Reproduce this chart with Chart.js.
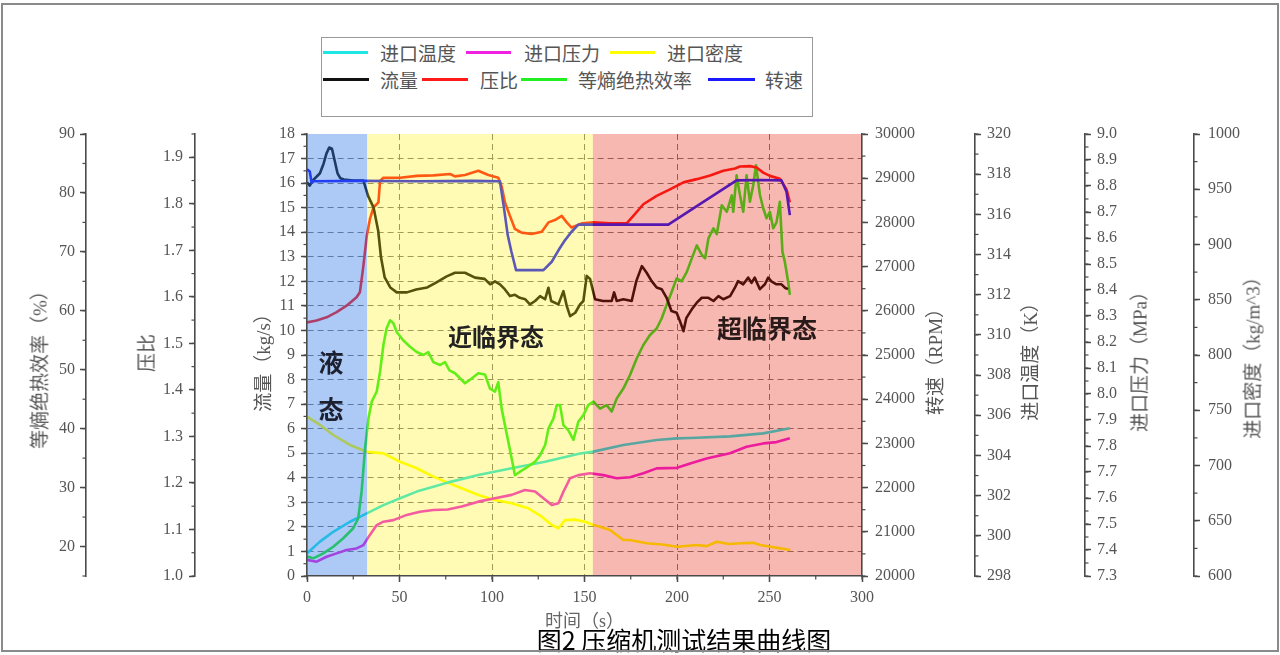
<!DOCTYPE html>
<html>
<head>
<meta charset="utf-8">
<script src="https://cdn.jsdelivr.net/npm/chart.js@4.4.1/dist/chart.umd.min.js"></script>
<style>
html,body{margin:0;padding:0;background:#fff;}
#wrap{position:relative;width:1280px;height:655px;overflow:hidden;background:#fff;}
#c{position:absolute;left:0;top:0;}
.ytitle{position:absolute;font-size:19px;line-height:1;color:#555;white-space:nowrap;
  font-family:"Liberation Serif","Noto Sans CJK SC",serif;transform:translate(-50%,-50%) rotate(-90deg);}
.lgbox{position:absolute;left:321px;top:37px;width:490px;height:78px;border:1.5px solid #999;background:#fff;}
.lgl{position:absolute;height:3px;}
.lgt{position:absolute;font-family:"Noto Sans CJK SC",sans-serif;font-size:19px;line-height:19px;color:#555;white-space:nowrap;}
.ann{position:absolute;font-family:"Noto Sans CJK SC",sans-serif;font-weight:bold;color:#222;line-height:1;
  white-space:nowrap;transform:translate(-50%,-50%);}
.cap{position:absolute;left:684px;top:627px;transform:translateX(-50%);font-family:"Noto Sans CJK SC",sans-serif;
  font-size:25px;line-height:25px;color:#000;white-space:nowrap;}
.frame{position:absolute;left:1px;top:3px;width:1274px;height:645px;border:2px solid #8a8a8a;pointer-events:none;}
</style>
</head>
<body>
<div id="wrap">
  <canvas id="c" width="1280" height="655"></canvas>

  <div class="ytitle" style="left:40px;top:365px;">等熵绝热效率（%）</div>
  <div class="ytitle" style="left:147px;top:353px;">压比</div>
  <div class="ytitle" style="left:263px;top:358px;">流量（kg/s）</div>
  <div class="ytitle" style="left:935px;top:357px;">转速（RPM）</div>
  <div class="ytitle" style="left:1030px;top:357px;">进口温度（K）</div>
  <div class="ytitle" style="left:1140px;top:357px;">进口压力（MPa）</div>
  <div class="ytitle" style="left:1253px;top:353px;">进口密度（kg/m^3）</div>

  <div class="lgbox"></div>
  <div id="legend"></div>

  <div class="ann" style="left:331px;top:361px;font-size:25px;color:#1c2030;">液</div>
  <div class="ann" style="left:331px;top:408px;font-size:25px;color:#1c2030;">态</div>
  <div class="ann" style="left:496px;top:336px;font-size:24px;">近临界态</div>
  <div class="ann" style="left:767px;top:327px;font-size:25px;color:#2a1a1a;">超临界态</div>

  <div class="cap">图2 压缩机测试结果曲线图</div>
  <div class="frame"></div>
</div>

<script>
// ---------------- data ----------------
const flowT = [0,1.5,3,5,7,9,10.5,12,13.5,15,16.5,18,20,25,30.5,33,36,38.5,40,42,45,48.5,54,59,65,70,75.5,80,85.4,90.8,96,99,101.6,104.3,107,109.7,112.4,115,118,120.5,123.3,126,128.7,130.5,132,135.9,138.6,140.4,142.2,145,147.6,149.4,151.2,153,155.7,160,164.7,166,167.4,171,175.5,178,181,183.6,186.3,189,191.7,194.4,197,199.8,201.6,203.5,205,208,210.7,213.4,217,219.7,222.4,225,228.7,231.3,233,235.8,238.5,240.3,242,244.8,247.5,249.3,251,253.8,256.5,258.3,260];
const flowV = [16.03,15.9,16.1,16.25,16.4,16.8,17.2,17.45,17.4,16.9,16.4,16.2,16.15,16.1,16.1,15.48,15.0,14.05,12.98,12.16,11.75,11.55,11.55,11.67,11.75,11.96,12.2,12.35,12.35,12.15,12.1,11.88,12.0,11.88,11.67,11.4,11.45,11.33,11.27,11.06,11.2,11.4,11.27,11.74,11.2,11.06,11.6,11.0,10.58,10.72,11.06,11.2,12.22,12.1,11.27,11.2,11.2,11.55,11.2,11.27,11.2,12.01,12.62,12.35,12.01,11.75,11.68,11.33,10.79,10.72,10.38,9.97,10.5,10.86,11.13,11.33,11.33,11.2,11.4,11.27,11.4,11.74,12.01,11.88,12.15,11.94,12.15,11.68,11.88,12.15,12.0,11.88,11.88,11.74,11.68];

const rpmT = [0,1.5,2.5,3.5,30,60,90,104.3,106.5,108.5,110.5,113,127.8,132.3,136,139.5,143,146.7,170,195.3,213.4,232.2,245,256.5,259.2,261];
const rpmV = [29200,29150,28900,28930,28940,28930,28940,28930,28317,27713,27336,26920,26920,27110,27374,27600,27788,27950,27950,27950,28440,28950,28960,28950,28693,28166];

const prT = [0,5.2,10.6,16,21.4,26.8,28.6,30.5,32.3,34,35.9,38.6,39.5,41.3,50.3,59.3,68.3,77.3,80,85.4,92.6,98,103.4,105.2,107,109.7,112.4,116,121.4,126.9,130.5,134,137.7,140.4,143,148.5,154.8,163.8,172.8,176.4,181.8,189,196.2,203.5,210.7,217.9,225,231.4,234,239.4,243,246.6,250.2,255.6,259.2,261];
const prV = [1.545,1.549,1.556,1.567,1.581,1.599,1.61,1.667,1.731,1.767,1.792,1.803,1.849,1.856,1.856,1.86,1.861,1.864,1.859,1.862,1.871,1.862,1.856,1.838,1.803,1.774,1.746,1.738,1.735,1.74,1.76,1.765,1.774,1.76,1.749,1.758,1.76,1.758,1.758,1.774,1.799,1.817,1.831,1.846,1.853,1.861,1.871,1.876,1.88,1.881,1.878,1.867,1.86,1.854,1.831,1.803];

const effT = [0,3.4,8.8,14.2,19.6,25,27.7,29.5,31.4,33.2,35,37.7,39.5,41.3,43,44.9,46.7,48.5,52,55.7,59.3,62.9,65.6,68.3,71.9,74.6,77,80,85.4,89,92.6,96.2,98.9,101.6,103.4,105.2,107,108.8,110.6,112.4,115.1,117.8,120.5,123.3,126,128.7,130.5,133.2,135,136.8,138.6,141.3,144,146.7,149.4,152,154.8,158.4,162,164.7,167.4,171,174.6,178.2,181.8,185.4,189,191.7,194.4,197.1,199.8,202.5,205.3,208,210.7,213.4,215.2,217,219.7,221.5,224.2,226.9,229.6,230.4,232.2,234,235.8,237.6,239.4,241.2,242.7,244.8,246.6,248.4,250.2,252,253.8,255.6,257,258.3,260.1,261];
const effV = [18.3,18.0,18.85,19.97,21.4,23.1,24.8,29.3,36.7,41.7,44.6,46.3,49.7,54.2,57.0,58.4,57.9,56.4,55.0,53.9,53.0,52.5,53.0,51.3,50.8,51.3,49.9,49.4,47.7,48.5,49.4,49.2,46.8,46.3,47.9,43.4,40.6,37.8,35.0,32.1,32.7,33.2,33.8,34.4,35.5,37.2,40.0,41.7,44.0,44.0,40.6,39.7,38.1,41.2,42.3,44.0,44.6,43.4,44.0,42.9,45.1,46.8,49.1,51.9,54.2,55.9,57.0,58.7,61.0,63.2,65.5,65.0,66.6,68.9,71.1,69.5,68.9,72.3,74.0,73.0,77.9,76.8,79.6,76.8,83.0,79.7,76.8,83.0,78.5,81.3,84.7,79.7,77.4,75.7,76.8,74.0,75.0,78.5,70.0,68.3,64.9,62.7];

const tempT = [0,7,14.2,23.2,32.3,41.3,50.3,59.3,68.3,76.4,92.6,110.6,128.7,147.6,154.8,171,189,200,207.2,228.6,246.6,261];
const tempV = [299.13,299.71,300.2,300.7,301.12,301.53,301.87,302.2,302.44,302.66,303.03,303.36,303.69,304.1,304.19,304.52,304.77,304.85,304.87,304.95,305.1,305.35];

const presT = [0,5.2,10.6,16,21.4,26.8,30.5,34,37.7,41.3,46.7,53.9,61,68.3,76,83.6,92.6,101.6,110.6,117.8,123.3,127.8,132.3,135.9,138.6,142.2,146.7,153,160.2,167.4,174.6,181.8,189,200,208,216,228.6,237.6,246.6,253.8,261];
const presV = [7.362,7.355,7.374,7.387,7.40,7.406,7.419,7.458,7.496,7.509,7.515,7.535,7.547,7.554,7.556,7.567,7.586,7.599,7.612,7.631,7.625,7.599,7.573,7.58,7.624,7.676,7.688,7.695,7.688,7.676,7.68,7.695,7.714,7.716,7.735,7.752,7.772,7.797,7.81,7.815,7.83];

const densT = [0,7,14.2,23.2,32.3,41.3,50.3,59.3,68.3,76,83.6,92.6,101.6,110.6,119.6,126.9,132.3,135.9,139.5,144.9,150.3,154.8,158.4,163.8,171,174.6,183.6,192,200,210.8,216,221.6,228,234.2,241.4,245,250.5,256,261.3];
const densV = [744.2,736.7,727.6,718.6,712.5,711,703.4,697.5,689.9,684.5,679.4,673.3,668.8,665.8,661.3,653.7,646.2,643.2,650.7,651,649.1,646.2,644.6,641.6,632.6,632.6,629.6,628.5,626.5,628,627,631,629,629.6,630,628,626.5,625,623.5];

// state regions (time, s)
const regionStart = [0, 32.5, 154.5];
const regionEnd   = [32.5, 154.5, 300];

// tick labels
const timeTicks = [0,50,100,150,200,250,300];
const flowTicks = [0,1,2,3,4,5,6,7,8,9,10,11,12,13,14,15,16,17,18];
const rpmTicks  = [20000,21000,22000,23000,24000,25000,26000,27000,28000,29000,30000];
const effTicks  = [20,30,40,50,60,70,80,90];
const prTicks   = [1.0,1.1,1.2,1.3,1.4,1.5,1.6,1.7,1.8,1.9];
const tempTicks = [298,300,302,304,306,308,310,312,314,316,318,320];
const presTicks = [7.3,7.4,7.5,7.6,7.7,7.8,7.9,8.0,8.1,8.2,8.3,8.4,8.5,8.6,8.7,8.8,8.9,9.0];
const densTicks = [600,650,700,750,800,850,900,950,1000];

// ---------------- styling ----------------
const COL = {
  temp:'#1ee6e6', pres:'#f020e0', dens:'#ffff00',
  flow:'#111111', pr:'#ff1a1a', eff:'#22ee22', rpm:'#1a1aff'
};
const regionColors = ['rgba(50,120,230,0.40)','rgba(255,240,0,0.29)','rgba(230,20,0,0.30)'];
const AX = '#4a4a4a';
const GRID = '#7a7a7a';
const TXT = '#555';

Chart.defaults.font.family = '"Liberation Serif","Noto Sans CJK SC",serif';

function pts(ts, vs){ return ts.map((t,i)=>({x:t, y:vs[i]})); }
const f1 = v => Number(v).toFixed(1);
const f0 = v => String(Math.round(v));

function yScale(o){
  return {
    type:'linear', position:o.pos, weight:o.w, min:o.min, max:o.max,
    afterBuildTicks: sc => { sc.ticks = o.ticks.map(v => ({value:v})); },
    afterFit: sc => { sc.width = o.width; },
    ticks:{autoSkip:false, padding:o.pad, color:TXT, font:{size:16}, callback:o.fmt},
    grid:{drawOnChartArea:false, tickLength:6, tickWidth:1.5, tickColor:AX, color:AX, lineWidth:1},
    border:{display:true, color:AX, width:1.6, z:o.bz || 0},
    title:{display:false}
  };
}

const scales = {
  x: {
    type:'linear', position:'bottom', min:0, max:300,
    afterBuildTicks: sc => { sc.ticks = timeTicks.map(v => ({value:v})); },
    afterFit: sc => { sc.height = 79; },
    ticks:{autoSkip:false, padding:6, color:TXT, font:{size:16}, maxRotation:0, callback:f0},
    grid:{drawOnChartArea:true, lineWidth:1, tickLength:6, tickWidth:1.5, tickColor:AX,
      color: c => (c.tick && (c.tick.value === 0 || c.tick.value === 300)) ? 'rgba(0,0,0,0)' : GRID},
    border:{display:true, color:AX, width:1.6, dash:[6,4], z:1},
    title:{display:true, text:'时间（s）', color:'#666', font:{size:18}, padding:{top:0, bottom:22}}
  },
  yEff:  yScale({pos:'left',  w:2, min:15, max:90, ticks:effTicks, width:78, pad:5, fmt:f0}),
  yPr:   yScale({pos:'left',  w:1, min:1.0, max:1.95, ticks:prTicks, width:109, pad:6, fmt:f1}),
  yFlow: yScale({pos:'left',  w:0, min:0, max:18, ticks:flowTicks, width:112, pad:6, fmt:f0, bz:1}),
  yRpm:  yScale({pos:'right', w:0, min:20000, max:30000, ticks:rpmTicks, width:113, pad:7, fmt:f0, bz:1}),
  yTemp: yScale({pos:'right', w:1, min:298, max:320, ticks:tempTicks, width:110, pad:6, fmt:f0}),
  yPres: yScale({pos:'right', w:2, min:7.3, max:9.0, ticks:presTicks, width:109, pad:6, fmt:f1}),
  yDens: yScale({pos:'right', w:3, min:600, max:1000, ticks:densTicks, width:81, pad:8, fmt:f0})
};
// dashed horizontal grid from flow axis
scales.yFlow.grid = {drawOnChartArea:true, lineWidth:1, tickLength:6, tickWidth:1.5, tickColor:AX,
  color: c => (c.tick && (c.tick.value === 0 || c.tick.value === 18)) ? 'rgba(0,0,0,0)' : GRID};
scales.yFlow.border.dash = [6,4];

const minorSteps = {x:25, yEff:5, yPr:0.05, yFlow:0.5, yRpm:500, yTemp:1, yPres:0.05, yDens:25};

const regionPlugin = {
  id:'regions',
  afterDatasetsDraw(chart){
    const {ctx, chartArea:{top,bottom}, scales:{x}} = chart;
    ctx.save();
    for (let i = 0; i < regionStart.length; i++){
      const x1 = x.getPixelForValue(regionStart[i]);
      const x2 = x.getPixelForValue(regionEnd[i]);
      ctx.fillStyle = regionColors[i];
      ctx.fillRect(x1, top, x2 - x1, bottom - top);
    }
    ctx.restore();
  }
};

const minorPlugin = {
  id:'minorTicks',
  afterDraw(chart){
    const ctx = chart.ctx;
    ctx.save();
    ctx.strokeStyle = AX; ctx.lineWidth = 1.2;
    for (const id in minorSteps){
      const s = chart.scales[id], step = minorSteps[id];
      const n = Math.round((s.max - s.min) / step);
      for (let k = 0; k <= n; k++){
        const p = s.getPixelForValue(s.min + k * step);
        ctx.beginPath();
        if (s.isHorizontal()){ ctx.moveTo(p, s.top); ctx.lineTo(p, s.top + 3.5); }
        else if (s.position === 'left'){ ctx.moveTo(s.right, p); ctx.lineTo(s.right - 3.5, p); }
        else { ctx.moveTo(s.left, p); ctx.lineTo(s.left + 3.5, p); }
        ctx.stroke();
      }
    }
    ctx.restore();
  }
};

function ds(label, ts, vs, color, axis, order){
  return {label, data:pts(ts, vs), borderColor:color, backgroundColor:color, yAxisID:axis, order,
    borderWidth:2.6, pointRadius:0, tension:0, fill:false, borderJoinStyle:'round'};
}

new Chart(document.getElementById('c'), {
  type:'line',
  data:{datasets:[
    ds('进口温度', tempT, tempV, COL.temp, 'yTemp', 5),
    ds('进口压力', presT, presV, COL.pres, 'yPres', 6),
    ds('进口密度', densT, densV, COL.dens, 'yDens', 7),
    ds('流量', flowT, flowV, COL.flow, 'yFlow', 2),
    ds('压比', prT, prV, COL.pr, 'yPr', 3),
    ds('等熵绝热效率', effT, effV, COL.eff, 'yEff', 4),
    ds('转速', rpmT, rpmV, COL.rpm, 'yRpm', 1)
  ]},
  options:{
    responsive:false, animation:false, events:[],
    layout:{padding:{left:8, right:5, top:134, bottom:0}},
    plugins:{legend:{display:false}, tooltip:{enabled:false}, title:{display:false}},
    scales
  },
  plugins:[regionPlugin, minorPlugin]
});

// ---------------- legend (HTML) ----------------
const legendItems = [
  {t:'进口温度', c:COL.temp, l1:323, l2:368, tx:380, y:52},
  {t:'进口压力', c:COL.pres, l1:466, l2:511, tx:524, y:52},
  {t:'进口密度', c:COL.dens, l1:610, l2:655, tx:667, y:52},
  {t:'流量', c:COL.flow, l1:323, l2:369, tx:380, y:79},
  {t:'压比', c:COL.pr, l1:422, l2:468, tx:480, y:79},
  {t:'等熵绝热效率', c:COL.eff, l1:521, l2:567, tx:578, y:79},
  {t:'转速', c:COL.rpm, l1:708, l2:755, tx:765, y:79}
];
const lg = document.getElementById('legend');
legendItems.forEach(it => {
  const ln = document.createElement('div');
  ln.className = 'lgl';
  ln.style.cssText = `left:${it.l1}px;width:${it.l2 - it.l1}px;top:${it.y - 1.5}px;background:${it.c};`;
  lg.appendChild(ln);
  const tx = document.createElement('div');
  tx.className = 'lgt';
  tx.style.cssText = `left:${it.tx}px;top:${it.y - 9.5}px;`;
  tx.textContent = it.t;
  lg.appendChild(tx);
});
</script>
</body>
</html>
